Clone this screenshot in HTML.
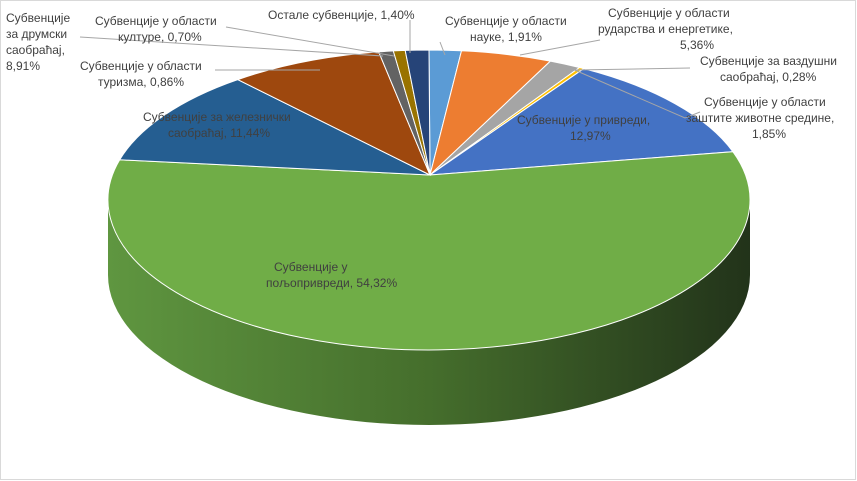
<!DOCTYPE html>
<html><head><meta charset="utf-8"><style>
body{margin:0;background:#fff}
svg{display:block}
text{font-family:"Liberation Sans",sans-serif;font-size:12px;fill:#404040}
</style></head><body>
<svg width="857" height="481" xmlns="http://www.w3.org/2000/svg">
<defs>
<linearGradient id="g" x1="0" x2="1" y1="0" y2="0">
<stop offset="0" stop-color="#5f9640"/><stop offset="0.5" stop-color="#456e2c"/><stop offset="1" stop-color="#22331a"/>
</linearGradient>
</defs>
<rect x="0.5" y="0.5" width="855" height="479" fill="#fff" stroke="#d9d9d9"/>
<g id="pie"></g>
<g fill="none" stroke="#a6a6a6" stroke-width="1">
<polyline points="80,37 383,56"/>
<polyline points="226,27 394,56"/>
<polyline points="215,70 320,70"/>
<polyline points="410,20 410,53"/>
<polyline points="440,42 445,55"/>
<polyline points="600,40 520,55"/>
<polyline points="690,68 575,70"/>
<polyline points="700,112 685,118 570,68"/>
</g>
<text x="6" y="22">Субвенције</text>
<text x="6" y="38">за друмски</text>
<text x="6" y="54">саобраћај,</text>
<text x="6" y="70">8,91%</text>
<text x="95" y="25">Субвенције у области</text>
<text x="118" y="41">културе, 0,70%</text>
<text x="80" y="70">Субвенције у области</text>
<text x="98" y="86">туризма, 0,86%</text>
<text x="268" y="19">Остале субвенције, 1,40%</text>
<text x="445" y="25">Субвенције у области</text>
<text x="470" y="41">науке, 1,91%</text>
<text x="608" y="17">Субвенције у области</text>
<text x="598" y="33">рударства и енергетике,</text>
<text x="680" y="49">5,36%</text>
<text x="700" y="65">Субвенције за ваздушни</text>
<text x="720" y="81">саобраћај, 0,28%</text>
<text x="704" y="106">Субвенције у области</text>
<text x="686" y="122">заштите животне средине,</text>
<text x="752" y="138">1,85%</text>
<text x="517" y="124">Субвенције у привреди,</text>
<text x="570" y="140">12,97%</text>
<text x="143" y="121">Субвенције за железнички</text>
<text x="168" y="137">саобраћај, 11,44%</text>
<text x="274" y="271">Субвенције у</text>
<text x="266" y="287">пољопривреди, 54,32%</text>
</svg>
<script>
var cx=429,cy=200,rx=321,ry=150,ax=430,ay=175,d=75;
var c=(ay-cy)/ry,k=Math.sqrt(1-c*c);
var data=[[1.91,"#5b9bd5"],[5.36,"#ed7d31"],[1.85,"#a5a5a5"],[0.28,"#ffc000"],[12.97,"#4472c4"],[54.32,"#70ad47"],[11.44,"#255e91"],[8.91,"#9e480e"],[0.86,"#636363"],[0.70,"#997300"],[1.40,"#264478"]];
function P(t){var u=Math.sin(t),v=-Math.cos(t),den=1+c*v;return [cx+rx*u*k/den,cy+ry*(v+c)/den];}
var g=document.getElementById("pie"),s="";
var sd="M"+(cx-rx)+","+cy+" A"+rx+","+ry+" 0 0 0 "+(cx+rx)+","+cy+" L"+(cx+rx)+","+(cy+d)+" A"+rx+","+ry+" 0 0 1 "+(cx-rx)+","+(cy+d)+" Z";
s+='<path d="'+sd+'" fill="url(#g)"/>';
var a0=0;
data.forEach(function(e){
 var a1=a0+e[0]/100*2*Math.PI;
 var p0=P(a0),p1=P(a1);
 var large=(a1-a0)>Math.PI?1:0;
 s+='<path d="M'+ax+','+ay+' L'+p0[0].toFixed(1)+','+p0[1].toFixed(1)+' A'+rx+','+ry+' 0 '+large+' 1 '+p1[0].toFixed(1)+','+p1[1].toFixed(1)+' Z" fill="'+e[1]+'" stroke="#fff" stroke-width="1"/>';
 a0=a1;
});
g.innerHTML=s;
</script>
</body></html>
